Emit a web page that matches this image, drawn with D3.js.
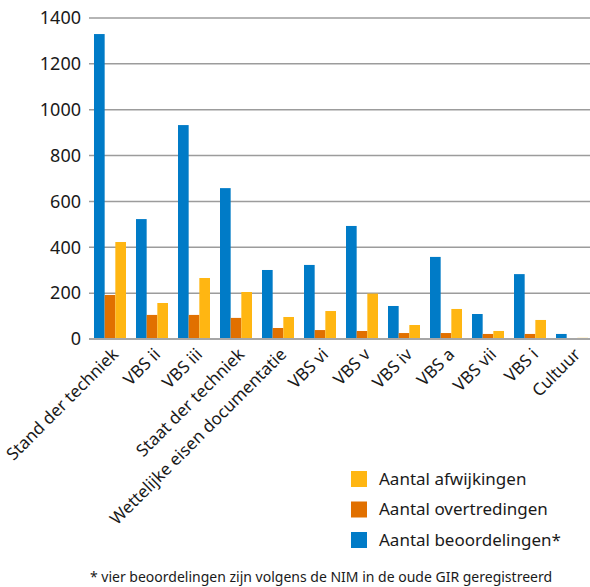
<!DOCTYPE html>
<html><head><meta charset="utf-8">
<script src="https://cdn.jsdelivr.net/npm/d3@7"></script>
<style>body{margin:0;background:#fff}svg{display:block;font-family:"Noto Sans",sans-serif}</style>
</head><body><svg id="c" width="590" height="587"></svg>
<script>
const categories = ["Stand der techniek","VBS ii","VBS iii","Staat der techniek","Wettelijke eisen documentatie","VBS vi","VBS v","VBS iv","VBS a","VBS vii","VBS i","Cultuur"];
const beoordelingen = [1330,523,933,658,301,323,493,144,358,109,283,22];
const overtredingen = [192,105,105,92,48,39,35,26,26,22,22,1];
const afwijkingen = [423,157,266,205,96,122,198,61,131,35,83,5];
const yTicks = [0,200,400,600,800,1000,1200,1400];
const seriesNames = ["Aantal beoordelingen*","Aantal overtredingen","Aantal afwijkingen"];
const seriesColors = ["#007BC7","#E17000","#FFB612"];
const footnote = "* vier beoordelingen zijn volgens de NIM in de oude GIR geregistreerd";

const svg = d3.select("#c");
const x0 = d3.scaleBand().domain(categories).range([89,593]).paddingInner(0.2381).paddingOuter(0.119);
const x1 = d3.scaleBand().domain([0,1,2]).range([0,x0.bandwidth()]);
const y = d3.scaleLinear().domain([0,1400]).range([339,18]);
const series = [beoordelingen, overtredingen, afwijkingen];

// gridlines
svg.append("g").selectAll("line").data(yTicks.filter(d=>d>0)).join("line")
  .attr("x1",89).attr("x2",590).attr("y1",d=>y(d)).attr("y2",d=>y(d))
  .attr("stroke","#9c9c9c").attr("stroke-width",1.5);

// y axis labels
const yAxis = d3.axisLeft(y).tickValues(yTicks).tickFormat(d3.format("d")).tickSize(0).tickPadding(8);
const ya = svg.append("g").attr("transform","translate(89,0)").call(yAxis);
ya.select(".domain").remove();
ya.selectAll("text").attr("font-size",18).attr("fill","#1a1a1a").attr("font-family","'Noto Sans',sans-serif");

// bars
const g = svg.append("g");
categories.forEach((c,i)=>{
  series.forEach((s,k)=>{
    g.append("rect").attr("x",x0(c)+x1(k)).attr("width",x1.bandwidth())
      .attr("y",y(s[i])).attr("height",y(0)-y(s[i])).attr("fill",seriesColors[k]);
  });
});

// x axis line
svg.append("line").attr("x1",89).attr("x2",590).attr("y1",y(0)).attr("y2",y(0))
  .attr("stroke","#a6a6a6").attr("stroke-width",2);

// x labels
svg.append("g").selectAll("text").data(categories).join("text")
  .attr("transform",d=>`translate(${x0(d)+x0.bandwidth()/2+1},${y(0)+8}) rotate(-45)`)
  .attr("text-anchor","end").attr("dy","0.7em")
  .attr("font-size",17).attr("fill","#1a1a1a").text(d=>d);

// legend
const legendOrder = [2,1,0];
const lg = svg.append("g");
legendOrder.forEach((k,j)=>{
  const yy = 479 + j*30.5;
  lg.append("rect").attr("x",351).attr("y",yy-8).attr("width",16).attr("height",16).attr("fill",seriesColors[k]);
  lg.append("text").attr("x",379).attr("y",yy).attr("dy","0.35em").attr("font-size",17).attr("fill","#1a1a1a").text(seriesNames[k]);
});

svg.append("text").attr("x",321).attr("y",582).attr("text-anchor","middle")
  .attr("font-size",14).attr("fill","#1a1a1a").text(footnote);
</script></body></html>
